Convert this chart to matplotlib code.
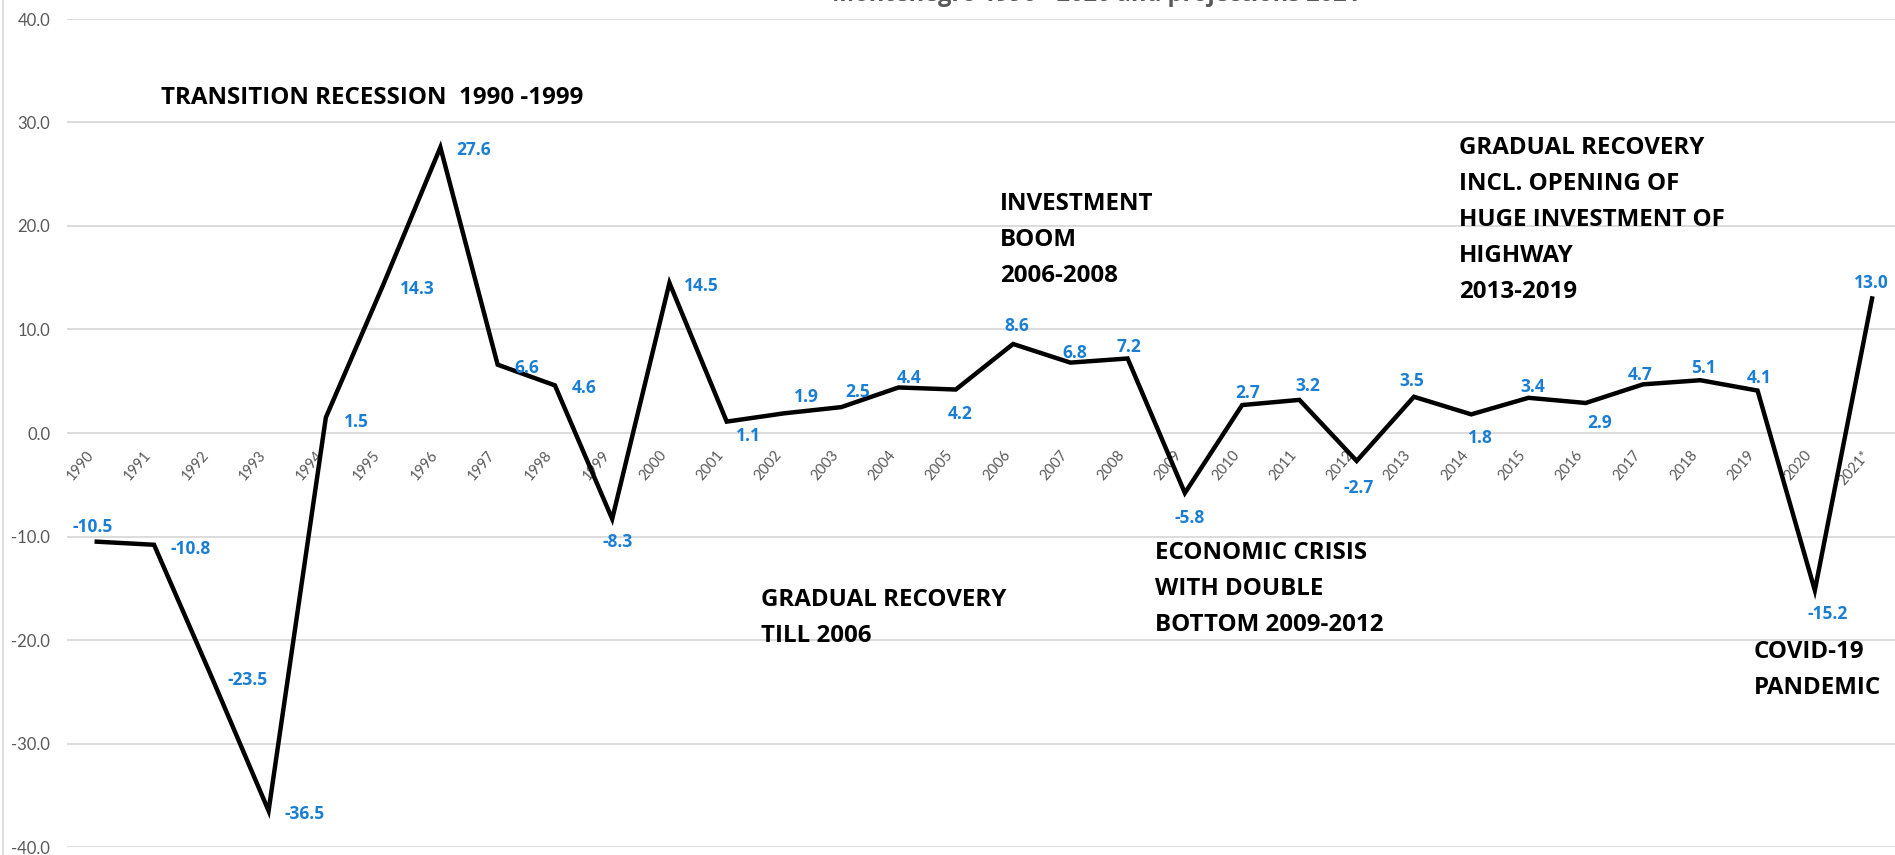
import matplotlib
matplotlib.use("Agg")
import matplotlib.pyplot as plt
from matplotlib.lines import Line2D

plt.rcParams["font.family"] = ["Lato", "DejaVu Sans"]
BOLD_FONT = ["Open Sans", "DejaVu Sans"]

# --- data -------------------------------------------------------------------
years = ["1990", "1991", "1992", "1993", "1994", "1995", "1996", "1997",
         "1998", "1999", "2000", "2001", "2002", "2003", "2004", "2005",
         "2006", "2007", "2008", "2009", "2010", "2011", "2012", "2013",
         "2014", "2015", "2016", "2017", "2018", "2019", "2020", "2021*"]
growth = [-10.5, -10.8, -23.5, -36.5, 1.5, 14.3, 27.6, 6.6,
          4.6, -8.3, 14.5, 1.1, 1.9, 2.5, 4.4, 4.2,
          8.6, 6.8, 7.2, -5.8, 2.7, 3.2, -2.7, 3.5,
          1.8, 3.4, 2.9, 4.7, 5.1, 4.1, -15.2, 13.0]

title = "Montenegro 1990 - 2020 and projections 2021"
phases = [
    "TRANSITION RECESSION  1990 -1999",
    "INVESTMENT\nBOOM\n2006-2008",
    "GRADUAL RECOVERY\nINCL. OPENING OF\nHUGE INVESTMENT OF\nHIGHWAY\n2013-2019",
    "GRADUAL RECOVERY\nTILL 2006",
    "ECONOMIC CRISIS\nWITH DOUBLE\nBOTTOM 2009-2012",
    "COVID-19\nPANDEMIC",
]

# --- layout / style -----------------------------------------------------------
W, H = 1895, 855
LINE_COLOR = "black"
LABEL_COLOR = "#1A7FD4"
GRID_COLOR = "#D9D9D9"
TICK_COLOR = "#595959"

# data label offsets in pixels (dx right, dy down) from each point
label_offsets = [(-4, -15), (37, 4), (36, 4), (36, 3), (31, 5), (34, 4), (33, 3), (29, 3),
                 (29, 3), (5, 23), (32, 3), (22, 14), (22, -16), (16, -15), (11, -9), (4, 24),
                 (4, -18), (4, -10), (1, -11), (5, 25), (6, -12), (8, -14), (2, 27), (-2, -16),
                 (9, 24), (4, -11), (14, 20), (-3, -9), (3, -12), (2, -13), (13, 24), (-1, -15)]

# phase text: left x px, vertical centre px (image coords)
phase_pos = [(161, 98), (1000, 240), (1459, 220), (761, 618), (1155, 589), (1754, 670)]

fig = plt.figure(figsize=(W / 100, H / 100), dpi=100)
ax = fig.add_axes([67 / W, (H - 847) / H, (W - 67) / W, (847 - 19) / H])

x = list(range(len(years)))
ax.plot(x, growth, color=LINE_COLOR, lw=3.2, solid_joinstyle="miter", zorder=3)

for xi, v, (dx, dy) in zip(x, growth, label_offsets):
    ax.annotate(f"{v:.1f}", (xi, v), xytext=(dx, -dy), textcoords="offset pixels",
                ha="center", va="center", color=LABEL_COLOR, fontsize=12.5,
                fontweight="bold", family=BOLD_FONT, zorder=4)

ax.set_xlim(-0.52, 31.40)
ax.set_ylim(-40, 40)
ax.set_yticks(range(-40, 41, 10))
ax.set_yticklabels([f"{t:.1f}" for t in range(-40, 41, 10)])
ax.yaxis.grid(True, color=GRID_COLOR, lw=1.3)
ax.set_axisbelow(True)

ax.set_xticks(x)
ax.set_xticklabels(years)
ax.spines["bottom"].set_position(("data", 0))
for s in ["top", "right", "left", "bottom"]:
    ax.spines[s].set_color("none")
ax.tick_params(axis="x", length=0, pad=11, labelsize=10.5, labelcolor=TICK_COLOR)
ax.tick_params(axis="y", length=0, pad=12, labelsize=12, labelcolor=TICK_COLOR)
for lab in ax.get_xticklabels():
    lab.set_rotation(50)
    lab.set_ha("right")
    lab.set_va("top")

for txt, (px, py) in zip(phases, phase_pos):
    fig.text(px / W, 1 - py / H, txt, ha="left", va="center", fontsize=17.4,
             fontweight="bold", family=BOLD_FONT, color="black", linespacing=1.66)

# title sits mostly above the visible area, as in the cropped original
fig.text(1096 / W, 1 + 5 / H, title, ha="center", va="center", fontsize=17,
         fontweight="bold", family=BOLD_FONT, color=TICK_COLOR)

# chart area border on the left
fig.add_artist(Line2D([3 / W, 3 / W], [0, 1], transform=fig.transFigure,
                      color=GRID_COLOR, lw=1.2))

fig.savefig("out.png", dpi=100)
